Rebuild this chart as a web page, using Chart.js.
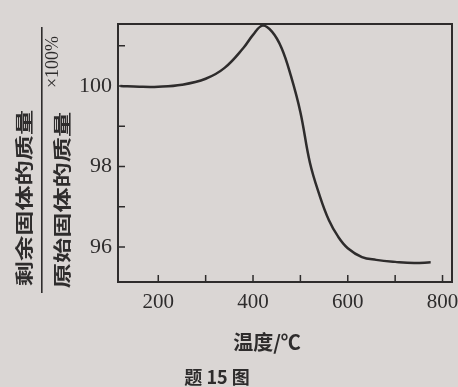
<!DOCTYPE html>
<html>
<head>
<meta charset="utf-8">
<script src="https://cdn.jsdelivr.net/npm/chart.js@4.4.1/dist/chart.umd.min.js"></script>
<style>
  html, body { margin: 0; padding: 0; background: #dad6d4; }
  #wrap { width: 458px; height: 387px; }
</style>
</head>
<body>
<div id="wrap"><canvas id="tga"></canvas></div>
<script>
// temperature (°C) and remaining mass ratio (%)
const temps = [120, 160, 200, 250, 300, 340, 380, 400, 420, 440, 460, 480, 500, 520, 540, 560, 580, 600, 630, 660, 700, 740, 775];
const massPct = [100.0, 99.98, 99.98, 100.03, 100.18, 100.45, 100.95, 101.27, 101.5, 101.35, 100.95, 100.25, 99.35, 98.1, 97.3, 96.67, 96.25, 95.97, 95.75, 95.68, 95.63, 95.6, 95.62];

const xTickValues = [200, 300, 400, 500, 600, 700, 800];
const xTickLabels = [200, 400, 600, 800];
const yTickValues = [96, 97, 98, 99, 100, 101];
const yTickLabels = [96, 98, 100];

const ink = '#2e2c2c';
const ctx = document.getElementById('tga');

const framePlugin = {
    id: 'frame',
    afterDraw(chart) {
        const c = chart.ctx;
        const a = chart.chartArea;
        const xs = chart.scales.x, ys = chart.scales.y;
        c.save();
        c.strokeStyle = ink;
        c.lineWidth = 2;
        c.strokeRect(a.left, a.top, a.right - a.left, a.bottom - a.top);
        // inward ticks
        c.lineWidth = 1.5;
        c.beginPath();
        yTickValues.forEach(v => {
            const p = ys.getPixelForValue(v);
            c.moveTo(a.left, p);
            c.lineTo(a.left + 7, p);
        });
        xTickValues.forEach(v => {
            const p = xs.getPixelForValue(v);
            c.moveTo(p, a.bottom);
            c.lineTo(p, a.bottom - 7);
        });
        c.stroke();

        // y title as a fraction, rotated
        c.fillStyle = ink;
        c.save();
        c.rotate(-Math.PI / 2);
        c.textAlign = 'center';
        c.textBaseline = 'middle';
        c.font = 'bold 21px "Noto Sans CJK SC"';
        c.save();
        c.translate(-198, 24);
        c.scale(1.2, 0.85);
        c.fillText('剩余固体的质量', 0, 0);
        c.restore();
        c.save();
        c.translate(-200, 62);
        c.scale(1.2, 0.85);
        c.fillText('原始固体的质量', 0, 0);
        c.restore();
        c.fillRect(-293, 41, 266, 1.6);
        c.font = '18px "Liberation Serif"';
        c.fillText('×100%', -62, 53);
        c.restore();

        // x title and caption
        c.textAlign = 'center';
        c.textBaseline = 'middle';
        c.font = 'bold 20px "Noto Sans CJK SC"';
        c.fillText('温度/℃', 267, 342);
        c.font = 'bold 18px "Noto Sans CJK SC"';
        c.fillText('题 15 图', 217, 377);
        c.restore();
    }
};

new Chart(ctx, {
    type: 'line',
    data: {
        datasets: [{
            data: temps.map((t, i) => ({ x: t, y: massPct[i] })),
            borderColor: ink,
            borderWidth: 2.5,
            pointRadius: 0,
            tension: 0.4,
            fill: false
        }]
    },
    options: {
        responsive: true,
        maintainAspectRatio: false,
        animation: false,
        layout: { padding: { top: 24, right: 6, left: 0, bottom: 0 } },
        plugins: { legend: { display: false }, tooltip: { enabled: false } },
        scales: {
            x: {
                type: 'linear',
                min: 115,
                max: 820,
                grid: { display: false, drawTicks: false },
                border: { display: false },
                afterBuildTicks: s => { s.ticks = xTickValues.map(v => ({ value: v })); },
                afterFit: s => { s.height = 105; s.paddingLeft = 0; s.paddingRight = 0; },
                ticks: {
                    padding: 8,
                    maxRotation: 0,
                    autoSkip: false,
                    color: ink,
                    font: { family: '"Liberation Serif"', size: 21 },
                    callback: v => xTickLabels.includes(v) ? String(v) : ''
                }
            },
            y: {
                min: 95.13,
                max: 101.54,
                grid: { display: false, drawTicks: false },
                border: { display: false },
                afterBuildTicks: s => { s.ticks = yTickValues.map(v => ({ value: v })); },
                afterFit: s => { s.width = 118; s.paddingTop = 0; s.paddingBottom = 0; },
                ticks: {
                    padding: 6,
                    autoSkip: false,
                    color: ink,
                    font: { family: '"Liberation Serif"', size: 22 },
                    callback: v => yTickLabels.includes(v) ? String(v) : ''
                }
            }
        }
    },
    plugins: [framePlugin]
});
</script>
</body>
</html>
